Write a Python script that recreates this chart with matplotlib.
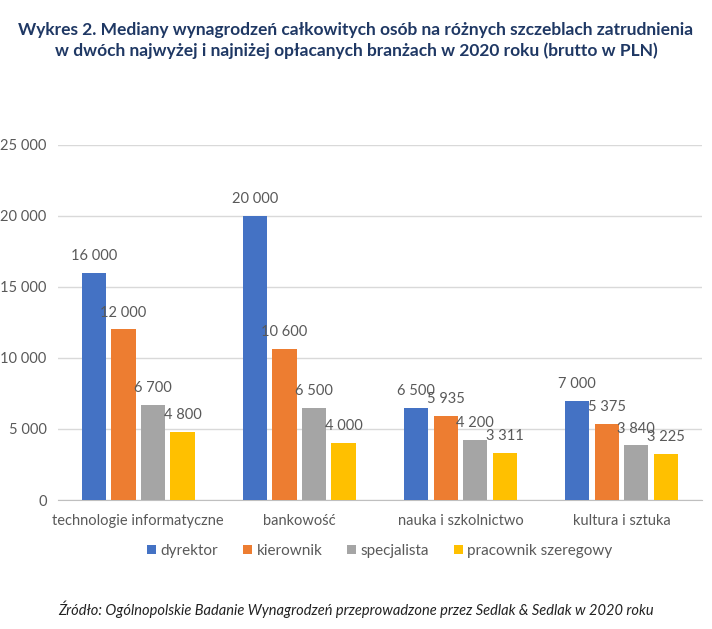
import matplotlib
matplotlib.use("Agg")
import matplotlib.pyplot as plt
import numpy as np

plt.rcParams['font.family'] = ['Lato', 'DejaVu Sans']

# dane z wykresu
branze = ['technologie informatyczne', 'bankowość', 'nauka i szkolnictwo', 'kultura i sztuka']
stanowiska = ['dyrektor', 'kierownik', 'specjalista', 'pracownik szeregowy']
dyrektor = [16000, 20000, 6500, 7000]
kierownik = [12000, 10600, 5935, 5375]
specjalista = [6700, 6500, 4200, 3840]
szeregowy = [4800, 4000, 3311, 3225]
y_ticks = [0, 5000, 10000, 15000, 20000, 25000]

colors = ['#4472C4', '#ED7D31', '#A5A5A5', '#FFC000']
text_gray = '#595959'


def fmt(v):
    return f'{v:,}'.replace(',', ' ')


fig = plt.figure(figsize=(7.12, 6.29), dpi=100)
ax = fig.add_axes([0.081, 0.205, 0.905, 0.565])

x = np.arange(len(branze))
width = 0.15
step = 0.183
series = [dyrektor, kierownik, specjalista, szeregowy]

for i, (vals, name) in enumerate(zip(series, stanowiska)):
    pos = x + (i - 1.5) * step
    bars = ax.bar(pos, vals, width, color=colors[i], label=name, zorder=3)
    for b, v in zip(bars, vals):
        ax.text(b.get_x() + b.get_width() / 2, v + 700, fmt(v),
                ha='center', va='bottom', fontsize=10.5, color=text_gray)

ax.set_xlim(-0.5, 3.5)
ax.set_ylim(0, 25000)
ax.set_yticks(y_ticks)
ax.set_yticklabels([fmt(t) for t in y_ticks], fontsize=10.5, color=text_gray)
ax.set_xticks(x)
ax.set_xticklabels(branze, fontsize=10.5, color=text_gray)
ax.tick_params(length=0)
ax.tick_params(axis='x', pad=10)
ax.tick_params(axis='y', pad=8)
ax.grid(axis='y', color='#D9D9D9', linewidth=1, zorder=0)
for s in ['top', 'right', 'left']:
    ax.spines[s].set_visible(False)
ax.spines['bottom'].set_color('#BFBFBF')

leg = ax.legend(loc='upper center', bbox_to_anchor=(0.5, -0.085), ncol=4,
                frameon=False, fontsize=11, handlelength=0.6, handleheight=0.6,
                handletextpad=0.3, columnspacing=1.6)
for t in leg.get_texts():
    t.set_color(text_gray)

fig.text(0.5, 0.965, 'Wykres 2. Mediany wynagrodzeń całkowitych osób na różnych szczeblach zatrudnienia\n'
         'w dwóch najwyżej i najniżej opłacanych branżach w 2020 roku (brutto w PLN)',
         ha='center', va='top', fontsize=12.5, fontweight='bold', color='#1F3864',
         linespacing=1.35)

fig.text(0.5, 0.018, 'Źródło: Ogólnopolskie Badanie Wynagrodzeń przeprowadzone przez Sedlak & Sedlak w 2020 roku',
         ha='center', va='bottom', fontsize=10.5, style='italic', color='#222222')

fig.savefig('out.png', dpi=100)
